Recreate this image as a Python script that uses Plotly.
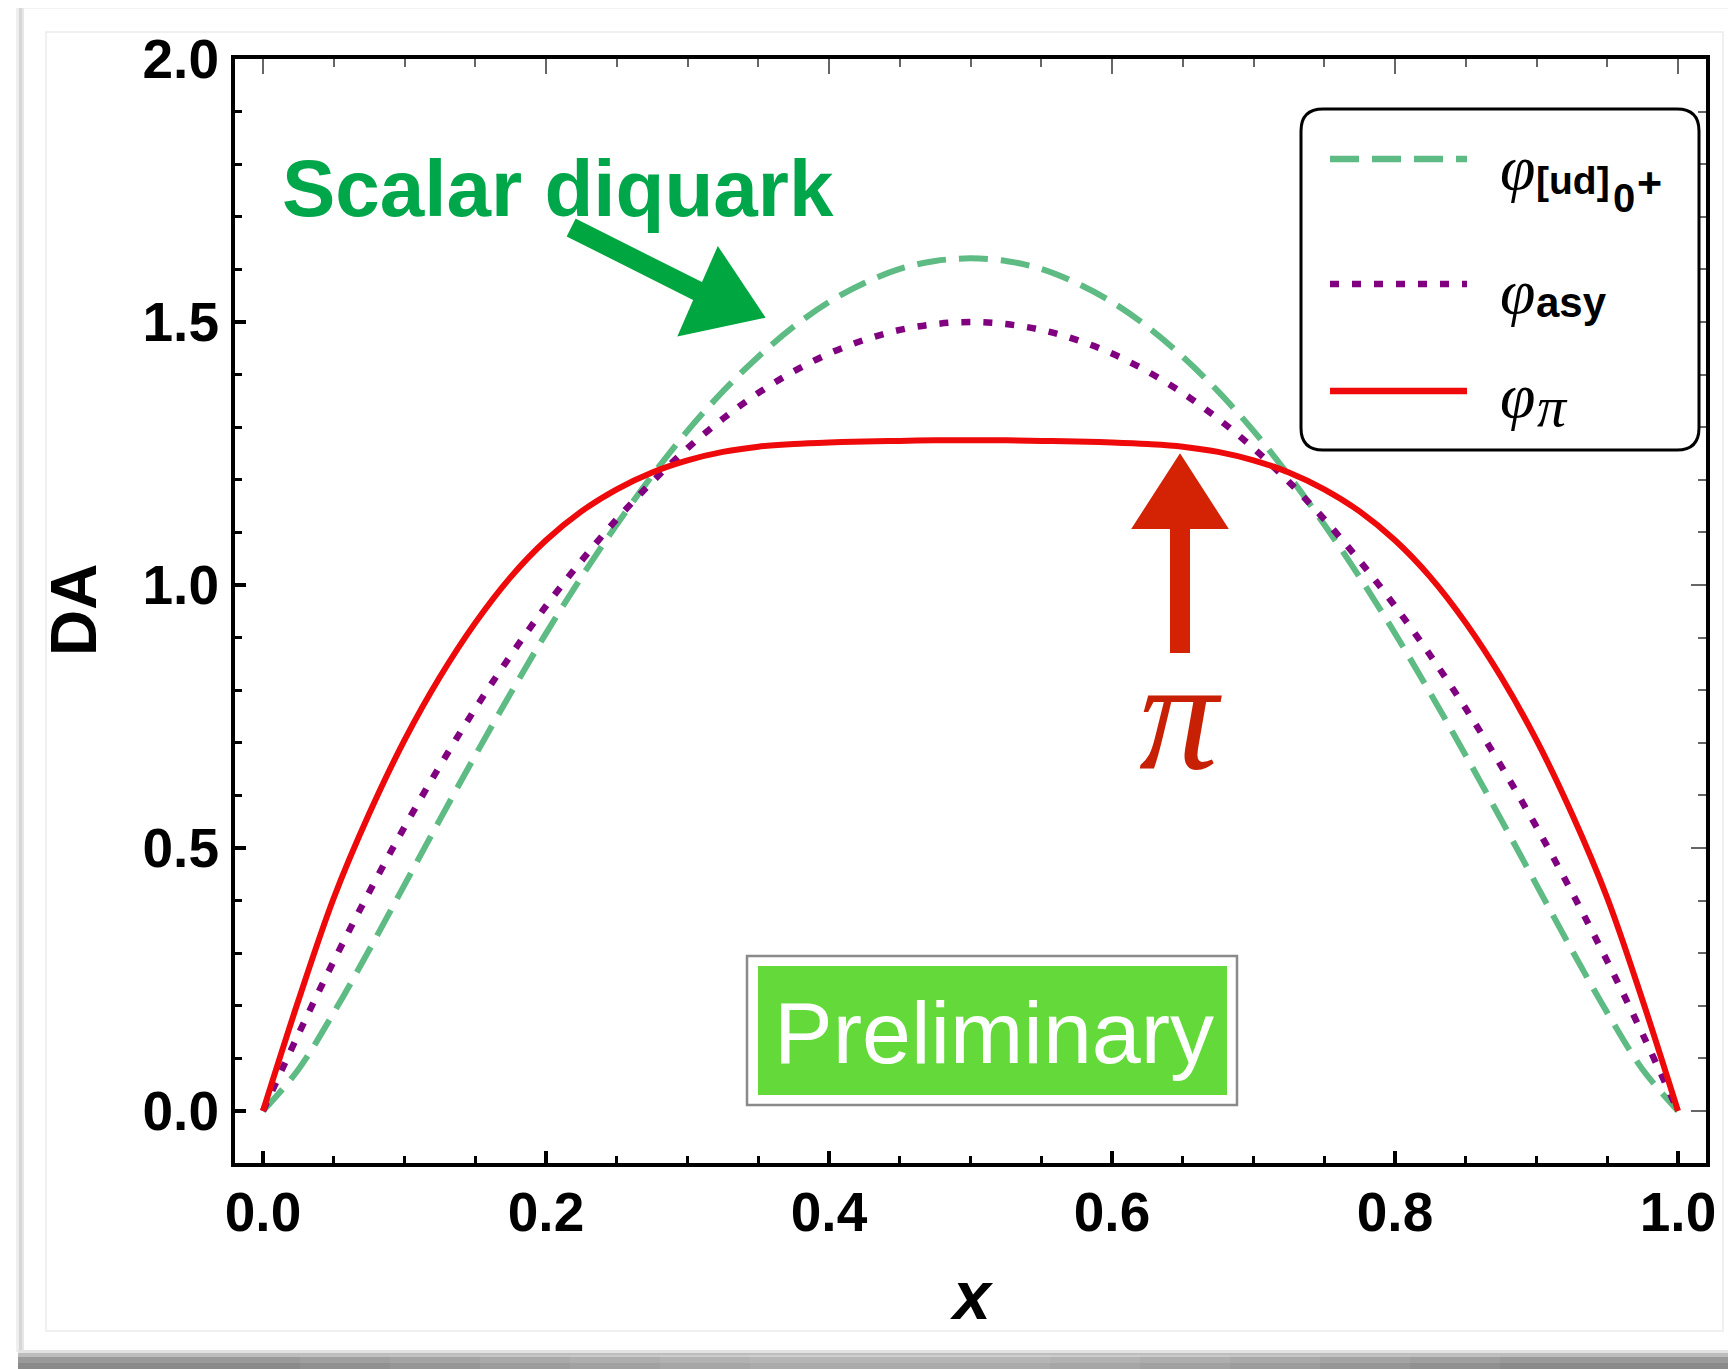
import plotly.graph_objects as go

# ---------------- data ----------------
x_vals = [0.0, 0.025, 0.05, 0.075, 0.1, 0.125, 0.15, 0.175, 0.2, 0.225, 0.25,
          0.275, 0.3, 0.325, 0.35, 0.375, 0.4, 0.425, 0.45, 0.475, 0.5,
          0.525, 0.55, 0.575, 0.6, 0.625, 0.65, 0.675, 0.7, 0.725, 0.75,
          0.775, 0.8, 0.825, 0.85, 0.875, 0.9, 0.925, 0.95, 0.975, 1.0]

phi_diquark = [0.0, 0.079, 0.187, 0.306, 0.430, 0.554, 0.676, 0.794, 0.908, 1.015, 1.115,
               1.208, 1.293, 1.368, 1.434, 1.491, 1.538, 1.574, 1.601, 1.616, 1.621,
               1.616, 1.601, 1.574, 1.538, 1.491, 1.434, 1.368, 1.293, 1.208, 1.115,
               1.015, 0.908, 0.794, 0.676, 0.554, 0.430, 0.306, 0.187, 0.079, 0.0]

phi_asy = [0.0, 0.146, 0.285, 0.416, 0.540, 0.656, 0.765, 0.866, 0.960, 1.046, 1.125,
           1.196, 1.260, 1.316, 1.365, 1.406, 1.440, 1.466, 1.485, 1.496, 1.500,
           1.496, 1.485, 1.466, 1.440, 1.406, 1.365, 1.316, 1.260, 1.196, 1.125,
           1.046, 0.960, 0.866, 0.765, 0.656, 0.540, 0.416, 0.285, 0.146, 0.0]

phi_pion = [0.0, 0.210, 0.405, 0.565, 0.705, 0.825, 0.928, 1.015, 1.085, 1.140, 1.182,
            1.214, 1.237, 1.253, 1.263, 1.268, 1.271, 1.273, 1.274, 1.275, 1.275,
            1.275, 1.274, 1.273, 1.271, 1.268, 1.263, 1.253, 1.237, 1.214, 1.182,
            1.140, 1.085, 1.015, 0.928, 0.825, 0.705, 0.565, 0.405, 0.210, 0.0]

x_tick_vals = [0.0, 0.2, 0.4, 0.6, 0.8, 1.0]
x_tick_text = ["0.0", "0.2", "0.4", "0.6", "0.8", "1.0"]
y_tick_vals = [0.0, 0.5, 1.0, 1.5, 2.0]
y_tick_text = ["0.0", "0.5", "1.0", "1.5", "2.0"]

series_names = ["diquark", "asy", "pion"]
series_colors = ["#5DBB83", "#800080", "#EE0A0A"]

# ---------------- geometry (reference-screen pixels -> paper) ----------------
OFF = 8                      # default <body> margin of the page
W, H = 1736 - OFF, 1369 - OFF
L, R, T, B = 235, 1706, 59, 1163     # data area in screen pixels
PW, PH = R - L, B - T


def PX(px):
    return (px - L) / PW


def PY(py):
    return (B - py) / PH


def poly(points):
    return "M " + " L ".join(f"{PX(a):.5f},{PY(b):.5f}" for a, b in points) + " Z"


def rounded_rect(x0, y0, x1, y1, r):
    p = lambda a, b: f"{PX(a):.5f},{PY(b):.5f}"
    return (f"M {p(x0 + r, y0)} L {p(x1 - r, y0)} Q {p(x1, y0)} {p(x1, y0 + r)} "
            f"L {p(x1, y1 - r)} Q {p(x1, y1)} {p(x1 - r, y1)} "
            f"L {p(x0 + r, y1)} Q {p(x0, y1)} {p(x0, y1 - r)} "
            f"L {p(x0, y0 + r)} Q {p(x0, y0)} {p(x0 + r, y0)} Z")


fig = go.Figure()

fig.add_trace(go.Scatter(x=x_vals, y=phi_diquark, mode="lines", name=series_names[0],
                         line=dict(color=series_colors[0], width=6, dash="29px,13px", shape="spline"),
                         showlegend=False))
fig.add_trace(go.Scatter(x=x_vals, y=phi_asy, mode="lines", name=series_names[1],
                         line=dict(color=series_colors[1], width=6.5, dash="9px,13px", shape="spline"),
                         showlegend=False))
fig.add_trace(go.Scatter(x=x_vals, y=phi_pion, mode="lines", name=series_names[2],
                         line=dict(color=series_colors[2], width=6, shape="spline", smoothing=1.0),
                         showlegend=False))
# empty trace so that the mirrored (top / right) tick axes are created
fig.add_trace(go.Scatter(x=[], y=[], xaxis="x2", yaxis="y2", showlegend=False, hoverinfo="skip"))

tick_font = dict(family="Liberation Sans, Arial, sans-serif", size=55, color="black", weight="bold")
x_range = [(L - 263) / 1415, 1 + (R - 1678) / 1415]
y_range = [-(B - 1111) / 526, (1111 - T) / 526]

fig.update_layout(
    width=W, height=H,
    margin=dict(l=L - OFF, r=W - (R - OFF), t=T - OFF, b=H - (B - OFF), pad=0),
    paper_bgcolor="white", plot_bgcolor="white",
    showlegend=False,
    xaxis=dict(range=x_range, showgrid=False, zeroline=False,
               showline=True, linecolor="black", linewidth=4, mirror=True,
               ticks="inside", ticklen=12, tickwidth=3.5, tickcolor="black",
               tickvals=x_tick_vals, ticktext=x_tick_text, tickfont=tick_font,
               ticklabelstandoff=-2,
               minor=dict(ticks="inside", dtick=0.05, tick0=0, ticklen=7, tickwidth=3, tickcolor="black")),
    yaxis=dict(range=y_range, showgrid=False, zeroline=False,
               showline=True, linecolor="black", linewidth=4, mirror=True,
               ticks="inside", ticklen=11, tickwidth=3.5, tickcolor="black",
               tickvals=y_tick_vals, ticktext=y_tick_text, tickfont=tick_font,
               ticklabelstandoff=1,
               minor=dict(ticks="inside", dtick=0.1, tick0=0, ticklen=7, tickwidth=3, tickcolor="black")),
    xaxis2=dict(range=x_range, overlaying="x", side="top", anchor="y2", showgrid=False, zeroline=False,
                showline=False, ticks="inside", ticklen=15, tickwidth=1.5, tickcolor="#666666",
                tickvals=x_tick_vals, showticklabels=False,
                minor=dict(ticks="inside", dtick=0.05, tick0=0, ticklen=8, tickwidth=1.5, tickcolor="#666666")),
    yaxis2=dict(range=y_range, overlaying="y", side="right", anchor="x2", showgrid=False, zeroline=False,
                showline=False, ticks="inside", ticklen=15, tickwidth=1.5, tickcolor="#666666",
                tickvals=y_tick_vals, showticklabels=False,
                minor=dict(ticks="inside", dtick=0.1, tick0=0, ticklen=8, tickwidth=1.5, tickcolor="#666666")),
)

shapes = []
# ---- card frame / shadow decoration ----
shapes.append(dict(type="rect", xref="paper", yref="paper", x0=PX(46), x1=PX(1723), y0=PY(1331), y1=PY(32),
                   line=dict(color="#ececec", width=1.5), fillcolor="rgba(0,0,0,0)", layer="below"))
shapes.append(dict(type="line", xref="paper", yref="paper", x0=PX(22), x1=PX(1736), y0=PY(8), y1=PY(8),
                   line=dict(color="#eeeeee", width=1.5), layer="below"))
for xa, xb, col in [(16, 19, "#efefef"), (19, 22, "#d6d6d6"), (22, 24, "#e6e6e6")]:
    shapes.append(dict(type="rect", xref="paper", yref="paper", x0=PX(xa), x1=PX(xb), y0=PY(1352), y1=PY(8),
                       line=dict(width=0), fillcolor=col, layer="below"))
for ya, yb, col in [(1350, 1353, "#e2e2e2"), (1353, 1357, "#bdbdbd"), (1357, 1363, "#9a9a9a"),
                    (1363, 1369, "#8a8a8a")]:
    shapes.append(dict(type="rect", xref="paper", yref="paper", x0=PX(18), x1=PX(1736), y0=PY(yb), y1=PY(ya),
                       line=dict(width=0), fillcolor=col, layer="below"))
# softer centre of the page-curl shadow
for k in range(6):
    shapes.append(dict(type="rect", xref="paper", yref="paper", x0=PX(300 + 90 * k), x1=PX(1500 - 90 * k),
                       y0=PY(1369), y1=PY(1355), line=dict(width=0),
                       fillcolor="rgba(255,255,255,0.06)", layer="below"))

# ---- legend box ----
shapes.append(dict(type="path", xref="paper", yref="paper", path=rounded_rect(1301, 109, 1699, 450, 22),
                   line=dict(color="black", width=3), fillcolor="white", layer="above"))
legend_rows = [159, 284, 391]
legend_dash = ["29px,13px", "9px,13px", "solid"]
for yy, col, dsh in zip(legend_rows, series_colors, legend_dash):
    shapes.append(dict(type="line", xref="paper", yref="paper", x0=PX(1330), x1=PX(1467), y0=PY(yy), y1=PY(yy),
                       line=dict(color=col, width=6.5, dash=dsh), layer="above"))

# ---- Preliminary box ----
shapes.append(dict(type="rect", xref="paper", yref="paper", x0=PX(747), x1=PX(1237), y0=PY(1105), y1=PY(956),
                   line=dict(color="#8a8a8a", width=2.5), fillcolor="white", layer="above"))
shapes.append(dict(type="rect", xref="paper", yref="paper", x0=PX(758), x1=PX(1227), y0=PY(1095), y1=PY(966),
                   line=dict(width=0), fillcolor="#63DA3A", layer="above"))

# ---- hand-drawn style arrows ----
green_arrow = [(576, 220), (702.5, 283.5), (718, 248), (764, 317), (679, 335), (694.5, 299.5), (568, 236)]
red_arrow = [(1180, 455), (1227, 528), (1189, 528), (1189, 652), (1171, 652), (1171, 528), (1133, 528)]
shapes.append(dict(type="path", xref="paper", yref="paper", path=poly(green_arrow),
                   line=dict(color="#00A640", width=2), fillcolor="#00A640", layer="above"))
shapes.append(dict(type="path", xref="paper", yref="paper", path=poly(red_arrow),
                   line=dict(color="#D42205", width=2), fillcolor="#D42205", layer="above"))

fig.update_layout(shapes=shapes)

sans = "Liberation Sans, Arial, sans-serif"
serif = "Liberation Serif, Times New Roman, serif"
ann = []


def text(px, py, s, size, color="black", family=sans, weight="normal", style="normal", xanchor="center",
         angle=0):
    ann.append(dict(x=PX(px), y=PY(py), xref="paper", yref="paper", text=s, showarrow=False,
                    xanchor=xanchor, yanchor="middle", textangle=angle, borderpad=0,
                    font=dict(family=family, size=size, color=color, weight=weight, style=style)))


# axis titles
text(74, 610, "DA", 64, weight="bold", angle=-90)
text(972, 1295, "x", 68, weight="bold", style="italic")

# call-outs
text(558, 189, "Scalar diquark", 80, color="#00A64A", weight="bold")
text(994, 1032, "Preliminary", 88, color="white")
text(1180, 714, "π", 158, color="#C82005", family=serif, style="italic")

# legend labels
legend_main = ["φ", "φ", "φ"]
legend_sub = ["[ud]", "asy", "π"]
text(1499, 167, legend_main[0], 64, family=serif, style="italic", xanchor="left")
text(1535, 180, legend_sub[0], 39, weight="bold", xanchor="left")
text(1612, 198, "0", 40, weight="bold", xanchor="left")
text(1636, 182, "+", 43, weight="bold", xanchor="left")
text(1499, 291, legend_main[1], 64, family=serif, style="italic", xanchor="left")
text(1535, 302, legend_sub[1], 42, weight="bold", xanchor="left")
text(1499, 395, legend_main[2], 64, family=serif, style="italic", xanchor="left")
text(1536, 406, legend_sub[2], 58, family=serif, style="italic", xanchor="left")

fig.update_layout(annotations=ann)

fig.write_html("out.html")
